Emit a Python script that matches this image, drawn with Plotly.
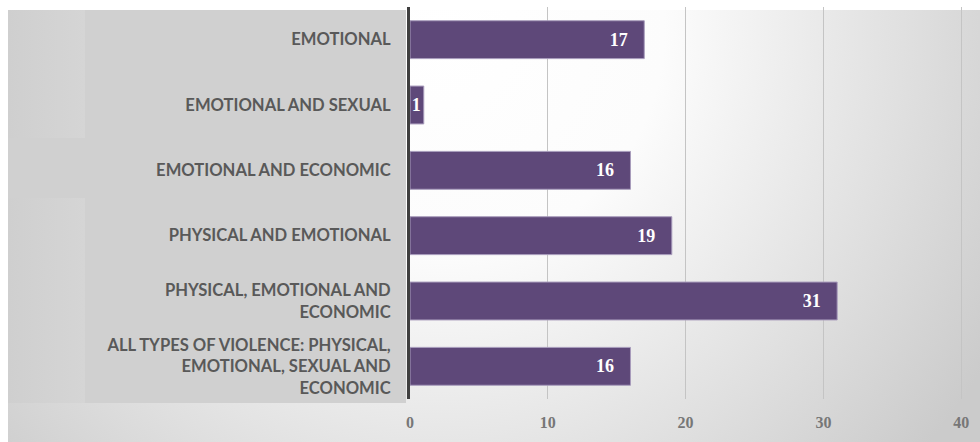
import base64
import plotly.graph_objects as go

# Survey results: number of respondents per combination of violence types
categories = [
    "EMOTIONAL",
    "EMOTIONAL AND SEXUAL",
    "EMOTIONAL AND ECONOMIC",
    "PHYSICAL AND EMOTIONAL",
    "PHYSICAL, EMOTIONAL AND<br>ECONOMIC",
    "ALL TYPES OF VIOLENCE: PHYSICAL,<br>EMOTIONAL, SEXUAL AND<br>ECONOMIC",
]
values = [17, 1, 16, 19, 31, 16]
x_ticks = [0, 10, 20, 30, 40]

W, H = 980, 442
M_L, M_R, M_T, M_B = 410, 0, 7, 43
PW, PH = W - M_L - M_R, H - M_T - M_B

BAR_COLOR = "#5e4879"
LABEL_PAD = "\u00a0\u00a0\u00a0"

# Backdrop: soft radial shading plus a grey panel behind the category labels
svg = f"""<svg xmlns='http://www.w3.org/2000/svg' width='{W}' height='{H}' viewBox='0 0 {W} {H}'>
<defs>
<radialGradient id='rg' gradientUnits='userSpaceOnUse' cx='440' cy='30' r='640'>
<stop offset='0' stop-color='#ffffff'/>
<stop offset='0.35' stop-color='#fcfcfc'/>
<stop offset='0.75' stop-color='#dedede'/>
<stop offset='1' stop-color='#cbcbcb'/>
</radialGradient>
<linearGradient id='lg' x1='0' y1='0' x2='1' y2='0'>
<stop offset='0' stop-color='#cfcfcf'/>
<stop offset='1' stop-color='#d5d5d5'/>
</linearGradient>
</defs>
<rect x='0' y='0' width='{W}' height='{H}' fill='#ffffff'/>
<rect x='8' y='10' width='{W-8}' height='{H-10}' fill='url(#rg)'/>
<rect x='8' y='10' width='398' height='393' fill='#d0d0d0'/>
<rect x='8' y='10' width='77' height='128' fill='url(#lg)'/>
<rect x='8' y='198' width='77' height='205' fill='url(#lg)'/>
</svg>"""
bg_uri = "data:image/svg+xml;base64," + base64.b64encode(svg.encode()).decode()

templates = ["%{x}" + LABEL_PAD if v >= 5 else "%{x}" for v in values]

fig = go.Figure(
    go.Bar(
        y=categories,
        x=values,
        orientation="h",
        marker=dict(color=BAR_COLOR, line=dict(color="#a89cbc", width=1)),
        width=0.58,
        texttemplate=templates,
        textposition="inside",
        insidetextanchor="end",
        constraintext="none",
        textangle=0,
        textfont=dict(family="Liberation Serif", size=18, color="#ffffff", weight="bold"),
        hoverinfo="skip",
    )
)

fig.update_layout(
    width=W,
    height=H,
    margin=dict(l=M_L, r=M_R, t=M_T, b=M_B, pad=0),
    paper_bgcolor="rgba(0,0,0,0)",
    plot_bgcolor="rgba(0,0,0,0)",
    showlegend=False,
    bargap=0.42,
    images=[
        dict(
            source=bg_uri,
            xref="paper",
            yref="paper",
            x=-M_L / PW,
            y=1 + M_T / PH,
            sizex=W / PW,
            sizey=H / PH,
            xanchor="left",
            yanchor="top",
            sizing="stretch",
            layer="below",
        )
    ],
    xaxis=dict(
        range=[0, PW / 13.78],
        tickvals=x_ticks,
        ticktext=[str(t) for t in x_ticks],
        showgrid=True,
        gridcolor="#c4c4c4",
        gridwidth=1,
        zeroline=False,
        showline=False,
        ticks="",
        ticklabelstandoff=12,
        tickfont=dict(family="Liberation Serif", size=16, color="#777777", weight="bold"),
    ),
    yaxis=dict(
        autorange="reversed",
        showgrid=False,
        zeroline=False,
        showline=True,
        linecolor="#3f3f3f",
        linewidth=3,
        ticks="",
        ticklabelstandoff=13,
        tickfont=dict(family="Lato", size=16.6, color="#595959", weight="bold"),
    ),
)

fig.write_html("out.html")
